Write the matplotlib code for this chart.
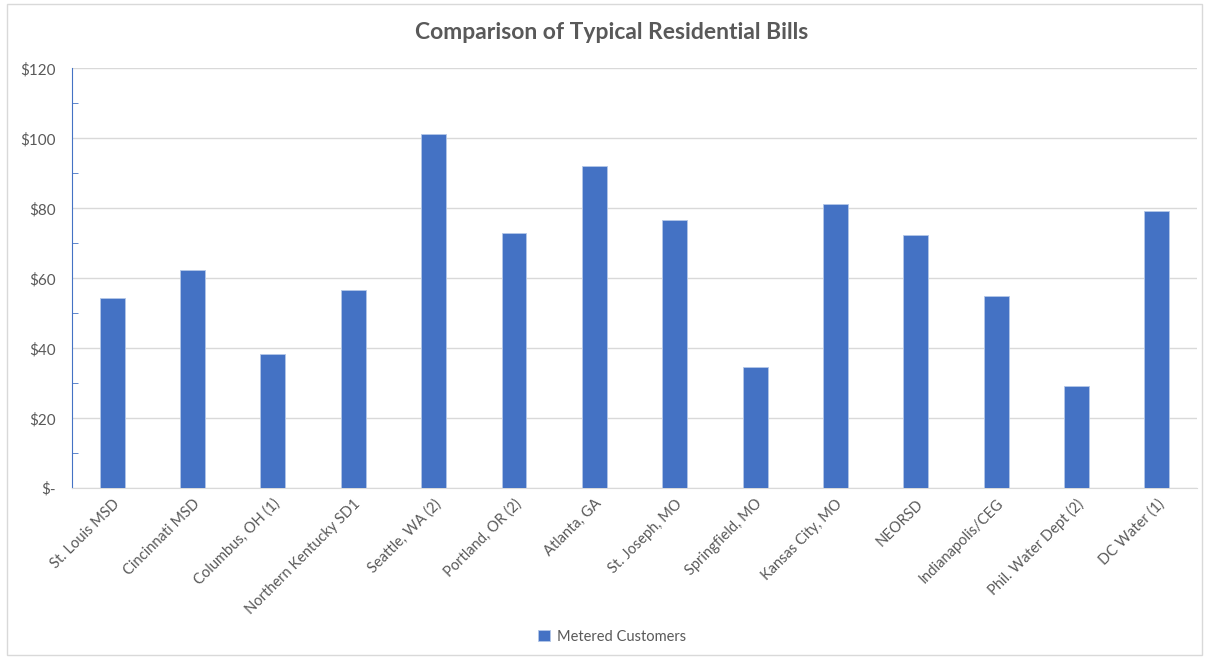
import numpy as np
import matplotlib
matplotlib.use("Agg")
import matplotlib.pyplot as plt
from matplotlib.patches import Rectangle
from matplotlib.ticker import FuncFormatter, MultipleLocator

utilities = ["St. Louis MSD", "Cincinnati MSD", "Columbus, OH (1)",
             "Northern Kentucky SD1", "Seattle, WA (2)", "Portland, OR (2)",
             "Atlanta, GA", "St. Joseph, MO", "Springfield, MO",
             "Kansas City, MO", "NEORSD", "Indianapolis/CEG",
             "Phil. Water Dept (2)", "DC Water (1)"]
metered = [54.5, 62.4, 38.3, 56.7, 101.3, 72.9, 92.2, 76.7, 34.6,
           81.2, 72.3, 54.9, 29.2, 79.3]

plt.rcParams['font.family'] = ['Lato', 'DejaVu Sans']
text_col = "#595959"
bar_col = "#4472C4"
grid_col = "#d9d9d9"

fig = plt.figure(figsize=(12.07, 6.58), dpi=100)
ax = fig.add_axes([0.0597, 0.258, 0.932, 0.638])

x = np.arange(len(utilities))
ax.bar(x, metered, width=0.31, color=bar_col, edgecolor="#b4c7e7",
       linewidth=0.6, label="Metered Customers", zorder=3)

ax.set_xlim(-0.5, len(utilities) - 0.5)
ax.set_ylim(0, 120)
ax.yaxis.set_major_locator(MultipleLocator(20))
ax.yaxis.set_minor_locator(MultipleLocator(10))
ax.yaxis.set_major_formatter(FuncFormatter(lambda v, p: "$-" if v == 0 else f"${v:.0f}"))
ax.grid(axis="y", color=grid_col, linewidth=1, zorder=0)

for s in ["top", "right"]:
    ax.spines[s].set_visible(False)
ax.spines["left"].set_color(bar_col)
ax.spines["bottom"].set_color(grid_col)

ax.tick_params(axis="y", which="major", length=0, pad=12, labelsize=11, labelcolor=text_col)
ax.tick_params(axis="y", which="minor", length=4, direction="in", color=bar_col)
ax.tick_params(axis="x", length=0, pad=6, labelsize=10.5, labelcolor=text_col)
ax.set_xticks(x)
ax.set_xticklabels(utilities, rotation=45, ha="right", rotation_mode="anchor")

fig.suptitle("Comparison of Typical Residential Bills", x=0.507, y=0.966,
             fontsize=16.5, fontweight="bold", color=text_col)

leg = fig.legend(loc="center", bbox_to_anchor=(0.507, 0.032), frameon=False,
                 fontsize=10.5, handlelength=0.8, handleheight=0.8, handletextpad=0.5)
for t in leg.get_texts():
    t.set_color(text_col)

fig.patches.append(Rectangle((0.006, 0.004), 0.99, 0.99, transform=fig.transFigure,
                             fill=False, edgecolor=grid_col, linewidth=1))

fig.savefig("out.png", dpi=100)
